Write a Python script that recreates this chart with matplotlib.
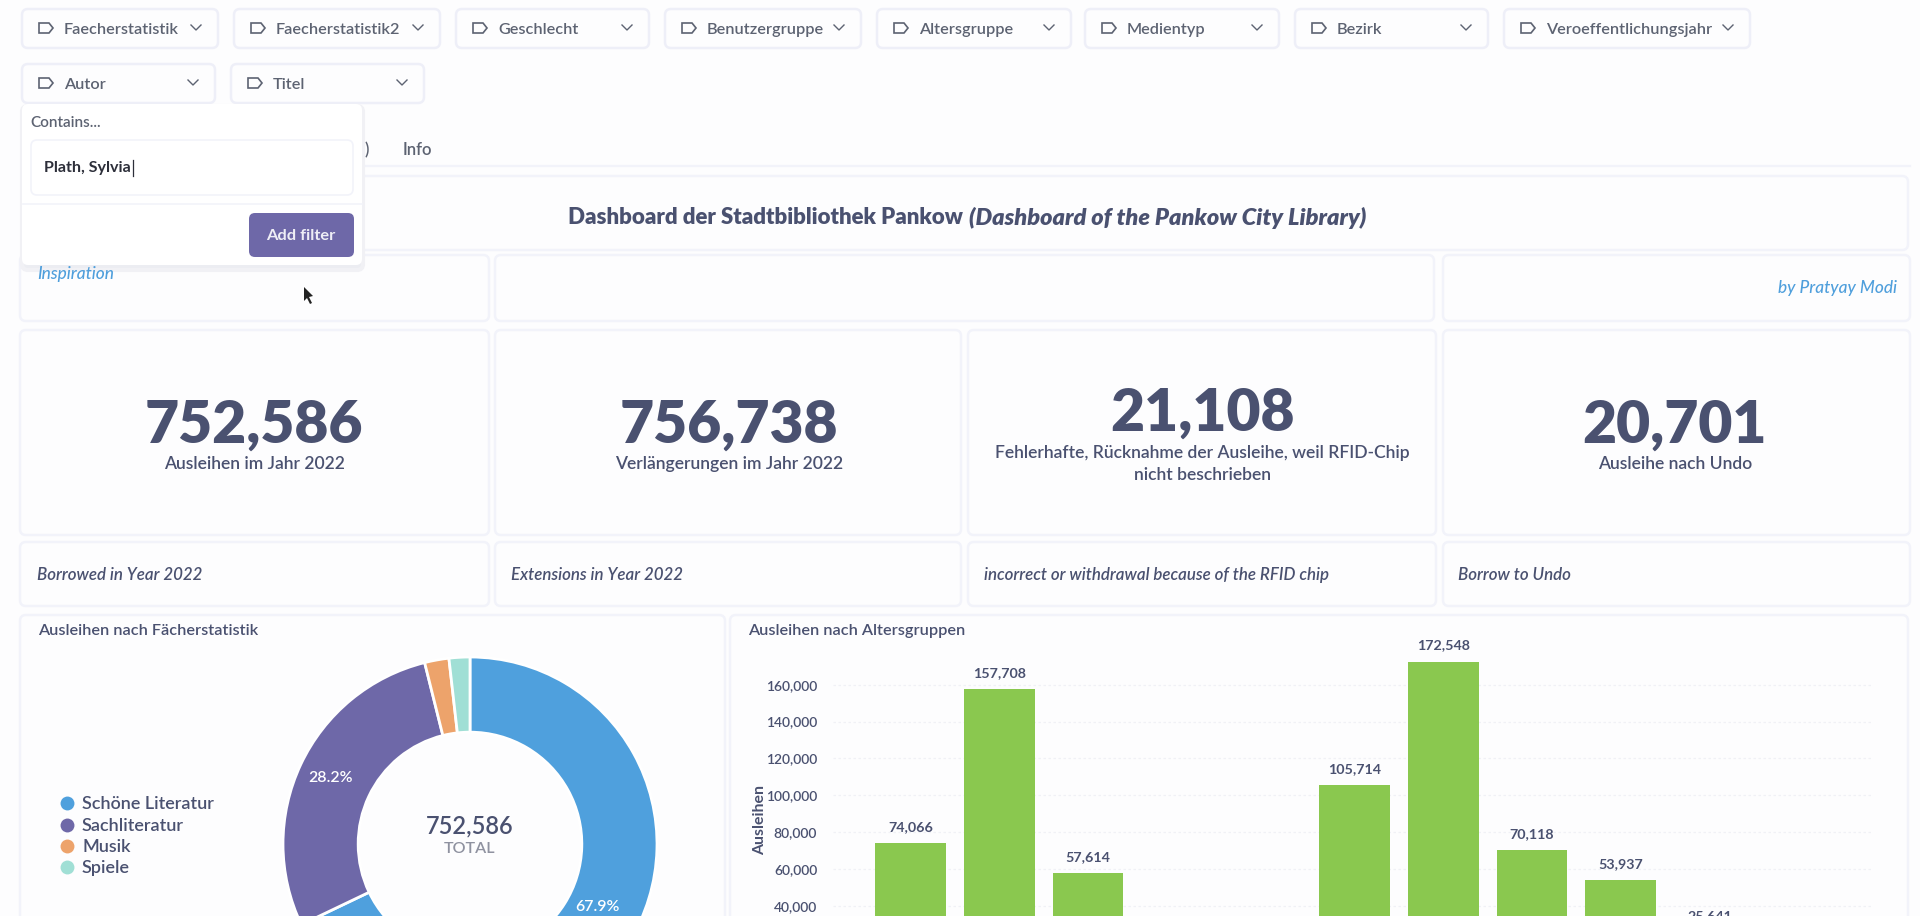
import matplotlib
matplotlib.use('Agg')
import matplotlib.pyplot as plt
from matplotlib.patches import FancyBboxPatch, Polygon

W, H = 1920, 916

plt.rcParams['font.family'] = ['Lato', 'DejaVu Sans']

INK = '#4a5170'
GREY = '#5d6372'
BORDER = '#f2f3fa'
BG = '#fdfdfe'
LINK = '#4f9fdc'

# filter row: label, left, right, top
filters = [
    ('Faecherstatistik', 22, 218, 9),
    ('Faecherstatistik2', 234, 440, 9),
    ('Geschlecht', 456, 649, 9),
    ('Benutzergruppe', 665, 861, 9),
    ('Altersgruppe', 877, 1071, 9),
    ('Medientyp', 1085, 1279, 9),
    ('Bezirk', 1295, 1488, 9),
    ('Veroeffentlichungsjahr', 1504, 1750, 9),
    ('Autor', 22, 215, 64),
    ('Titel', 231, 424, 64),
]

kpi_values = ['752,586', '756,738', '21,108', '20,701']
kpi_labels = ['Ausleihen im Jahr 2022', 'Verlängerungen im Jahr 2022',
              'Fehlerhafte, Rücknahme der Ausleihe, weil RFID-Chip\nnicht beschrieben',
              'Ausleihe nach Undo']
kpi_notes = ['Borrowed in Year 2022', 'Extensions in Year 2022',
             'incorrect or withdrawal because of the RFID chip', 'Borrow to Undo']

subject_names = ['Schöne Literatur', 'Sachliteratur', 'Musik', 'Spiele']
subject_shares = [67.9, 28.2, 2.1, 1.8]
subject_colors = ['#4fa0dd', '#6e68a8', '#eda36b', '#a0dfd5']

# slots 3 and 4 fall below the visible part of the chart
age_slots = [0, 1, 2, 5, 6, 7, 8, 9]
age_loans = [74066, 157708, 57614, 105714, 172548, 70118, 53937, 25641]
age_ticks = [40000, 60000, 80000, 100000, 120000, 140000, 160000]


def card(ax, x0, x1, y0, y1, fc=BG, ec=BORDER, lw=1.8, r=6, z=1):
    ax.add_patch(FancyBboxPatch((x0 + r, y0 + r), x1 - x0 - 2 * r, y1 - y0 - 2 * r,
                                boxstyle=f'round,pad={r},rounding_size={r}',
                                fc=fc, ec=ec, lw=lw, zorder=z))


def filter_chip(ax, label, x0, x1, top):
    card(ax, x0, x1, top, top + 39, ec='#eeeff8')
    mid = top + 19
    # tag icon
    ix = x0 + 17
    ax.add_patch(Polygon([(ix, mid - 5), (ix + 10, mid - 5), (ix + 14, mid), (ix + 10, mid + 5), (ix, mid + 5)],
                         closed=True, fc='none', ec=GREY, lw=1.2, zorder=3))
    ax.text(x0 + 42, mid + 2, label, fontsize=11.7, fontweight='semibold', color=GREY,
            va='center', ha='left', zorder=3)
    # chevron
    cx = x1 - 22
    ax.plot([cx - 5, cx, cx + 5], [mid - 3, mid + 2, mid - 3], color=GREY, lw=1.0, zorder=3)


fig = plt.figure(figsize=(W / 100, H / 100), dpi=100, facecolor=BG)

ui = fig.add_axes([0, 0, 1, 1], zorder=0)
ui.set_xlim(0, W)
ui.set_ylim(H, 0)
ui.axis('off')

for label, x0, x1, top in filters:
    filter_chip(ui, label, x0, x1, top)

# tabs and header cards
ui.plot([360, 1910], [166, 166], color=BORDER, lw=1.6, zorder=1)
ui.text(365, 150, ')', fontsize=12, fontweight='semibold', color=GREY, ha='left', va='center', zorder=2)
ui.text(403, 150, 'Info', fontsize=12, fontweight='semibold', color=GREY, ha='left', va='center', zorder=2)

card(ui, 22, 1908, 176, 250)
ui.text(568, 218, 'Dashboard der Stadtbibliothek Pankow', fontsize=16, fontweight='heavy', color=INK,
        ha='left', va='center', zorder=3)
ui.text(1366, 218, '(Dashboard of the Pankow City Library)', fontsize=16.9, fontweight='heavy', style='italic',
        color=INK, ha='right', va='center', zorder=3)

card(ui, 20, 489, 255, 321)
card(ui, 495, 1434, 255, 321)
card(ui, 1443, 1910, 255, 321)
ui.text(37, 274, 'Inspiration', fontsize=12.4, fontweight='medium', style='italic', color=LINK,
        ha='left', va='center', zorder=9)
ui.text(1897, 288, 'by Pratyay Modi', fontsize=12.4, fontweight='medium', style='italic', color=LINK,
        ha='right', va='center', zorder=3)

# KPI cards
kpi_left = [20, 495, 968, 1443]
kpi_right = [489, 961, 1436, 1910]
kpi_centre = [254, 729, 1202, 1675]
note_x = [37, 511, 984, 1458]
for i in range(4):
    card(ui, kpi_left[i], kpi_right[i], 330, 535)
    card(ui, kpi_left[i], kpi_right[i], 542, 606)
    two_lines = '\n' in kpi_labels[i]
    ui.text(kpi_centre[i], 413 if two_lines else 425, kpi_values[i], fontsize=42.3, fontweight='heavy', color=INK,
            ha='center', va='center', zorder=3)
    ui.text(kpi_centre[i], 464, kpi_labels[i], fontsize=12.6, fontweight='semibold', color=INK, ha='center',
            va='center', linespacing=1.45, zorder=3)
    ui.text(note_x[i], 575, kpi_notes[i], fontsize=12.2, fontweight='semibold', style='italic', color=INK,
            ha='left', va='center', zorder=3)

# chart cards
card(ui, 20, 725, 615, 960)
card(ui, 730, 1908, 615, 960)
ui.text(38, 631, 'Ausleihen nach Fächerstatistik', fontsize=11.7, fontweight='semibold', color=INK,
        ha='left', va='center', zorder=3)
ui.text(748, 631, 'Ausleihen nach Altersgruppen', fontsize=11.7, fontweight='semibold', color=INK,
        ha='left', va='center', zorder=3)

for y, name, colour in zip([803, 825, 846, 867], subject_names, subject_colors):
    ui.scatter([67], [y], s=100, color=colour, linewidths=0, zorder=3)
    ui.text(82, y + 1, name, fontsize=13, fontweight='semibold', color=INK, ha='left', va='center', zorder=3)

# open filter popup
card(ui, 22, 363, 106, 270, fc='#ecedf2', ec='#f1f1f5', lw=3, z=4)
card(ui, 22, 362, 104, 265, fc='#ffffff', ec='none', lw=0, z=5)
ui.text(30, 123, 'Contains...', fontsize=11, fontweight='semibold', color=GREY, va='center', zorder=6)
card(ui, 31, 353, 140, 195, fc='#ffffff', ec=BORDER, lw=1.2, z=6)
ui.text(44, 168, 'Plath, Sylvia', fontsize=11.6, fontweight='bold', color='#2d2f3a', va='center', zorder=7)
ui.plot([133, 133], [160, 176], color='#2d2f3a', lw=0.9, zorder=7)
ui.plot([23, 362], [204, 204], color=BORDER, lw=1.2, zorder=6)
card(ui, 249, 354, 213, 257, fc='#6e68a8', ec='none', lw=0, r=6, z=6)
ui.text(301, 236, 'Add filter', fontsize=11.8, fontweight='bold', color='#eeeef6', ha='center', va='center', zorder=7)

# mouse pointer
ui.add_patch(Polygon([(304, 287), (304, 301), (307, 298), (310, 304), (312, 303), (309, 297), (313, 296)],
                     closed=True, fc='#222222', ec='none', zorder=8))

# donut, runs off the bottom of the page
R = 187 * 1.02
cx, cy = 470, 844
donut = fig.add_axes([(cx - R) / W, 1 - (cy + R) / H, 2 * R / W, 2 * R / H], zorder=1)
donut.pie(subject_shares, colors=subject_colors, startangle=90, counterclock=False,
          wedgeprops=dict(width=0.402, edgecolor='white', linewidth=2))
donut.set_xlim(-1.02, 1.02)
donut.set_ylim(-1.02, 1.02)
donut.text(0, 0.095, '752,586', fontsize=17, fontweight='semibold', color=INK, ha='center', va='center')
donut.text(0, -0.025, 'TOTAL', fontsize=11.6, fontweight='semibold', color='#8f92a0', ha='center', va='center')
fig.text(597 / W, 1 - 907 / H, '67.9%', fontsize=11.4, fontweight='semibold', color='white',
         ha='center', va='center', zorder=5)
fig.text(331 / W, 1 - 778 / H, '28.2%', fontsize=11.4, fontweight='semibold', color='white',
         ha='center', va='center', zorder=5)

# bars: y axis scaled so 0 sits below the page edge
y0_px, top_px = 979.4, 640
x0_px, x1_px = 832.5, 1872
bars = fig.add_axes([x0_px / W, 1 - y0_px / H, (x1_px - x0_px) / W, (y0_px - top_px) / H], zorder=1)
bars.patch.set_alpha(0)
bars.bar(age_slots, age_loans, width=0.795, color='#8ac84f', zorder=2)
bars.set_xlim(-0.88, 10.83)
bars.set_ylim(0, (y0_px - top_px) / 0.001842)
bars.set_yticks(age_ticks, [f'{v:,}' for v in age_ticks])
bars.set_xticks([])
bars.tick_params(axis='y', length=0, pad=11, labelsize=10, labelcolor=INK)
for lab in bars.get_yticklabels():
    lab.set_fontweight('semibold')
bars.grid(axis='y', color='#f0f1f6', lw=0.9, ls=(0, (2, 2)), zorder=0)
for side in bars.spines.values():
    side.set_visible(False)
for slot, v in zip(age_slots, age_loans):
    bars.annotate(f'{v:,}', (slot, v), xytext=(0, 10), textcoords='offset pixels', ha='center', va='bottom',
                  fontsize=10.3, fontweight='bold', color=INK, zorder=3, annotation_clip=False)
ui.text(760, 820, 'Ausleihen', rotation=90, fontsize=11.4, fontweight='bold', color=INK, ha='center', va='center', zorder=3)

fig.savefig('out.png', dpi=100, facecolor=BG)
